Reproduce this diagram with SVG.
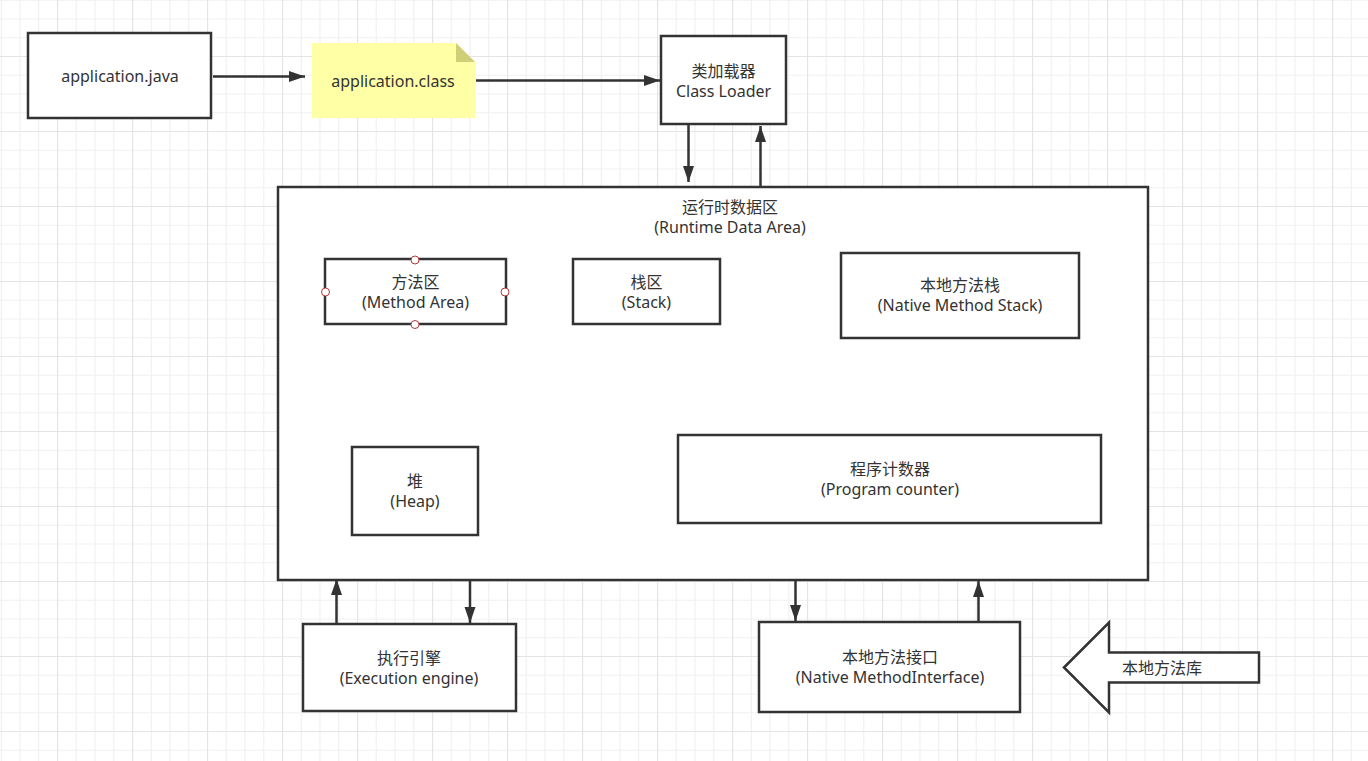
<svg xmlns="http://www.w3.org/2000/svg" width="1368" height="761" viewBox="0 0 1368 761">
<defs>
<pattern id="grid" patternUnits="userSpaceOnUse" x="57" y="56" width="75" height="75">
<path d="M0.5,0 V75 M19.25,0 V75 M38,0 V75 M56.75,0 V75 M0,0.5 H75 M0,19.25 H75 M0,38 H75 M0,56.75 H75" stroke="#f1f1f1" stroke-width="1.2" fill="none"/>
<path d="M0.5,0 V75 M0,0.5 H75" stroke="#e4e4e4" stroke-width="1.2" fill="none"/>
</pattern>
<marker id="arr" markerUnits="userSpaceOnUse" markerWidth="17" markerHeight="12" refX="16" refY="5.5" orient="auto">
<path d="M0,0 L16,5.5 L0,11 z" fill="#333"/>
</marker>
<style>
.box{fill:#fff;stroke:#333;stroke-width:2.5}
.t{font-family:"Noto Sans","Noto Sans CJK SC",sans-serif;font-size:16px;fill:#333;text-anchor:middle}
.ln{stroke:#333;stroke-width:2.5;fill:none;marker-end:url(#arr)}
.pt{fill:#fff;stroke:#b03a3a;stroke-width:1}
</style>
</defs>
<rect width="1368" height="761" fill="#fff"/>
<rect width="1368" height="761" fill="url(#grid)"/>

<g id="app-java">
<rect class="box" x="28" y="33" width="183" height="85"/>
<text class="t" x="120" y="82">application.java</text>
</g>

<g id="app-class">
<path d="M312,43 H456 L475,62 V118 H312 Z" fill="#ffffa6"/>
<path d="M456,43 L475,62 H456 Z" fill="#cfcf78"/>
<text class="t" x="393" y="87">application.class</text>
</g>

<g id="class-loader">
<rect class="box" x="661" y="36" width="125" height="88"/>
<text class="t" x="723.5" y="77">类加载器</text>
<text class="t" x="723.5" y="97">Class Loader</text>
</g>

<g id="runtime-data-area">
<rect class="box" x="278" y="187" width="870" height="393"/>
<text class="t" x="730" y="213">运行时数据区</text>
<text class="t" x="730" y="233">(Runtime Data Area)</text>
</g>

<g id="method-area">
<rect class="box" x="325" y="259" width="181" height="65"/>
<text class="t" x="415.5" y="288">方法区</text>
<text class="t" x="415.5" y="308">(Method Area)</text>
<circle class="pt" cx="415" cy="260" r="4"/>
<circle class="pt" cx="415" cy="324.5" r="4"/>
<circle class="pt" cx="325.5" cy="292" r="4"/>
<circle class="pt" cx="505" cy="292" r="4"/>
</g>

<g id="stack">
<rect class="box" x="573" y="259" width="147" height="65"/>
<text class="t" x="646.5" y="288">栈区</text>
<text class="t" x="646.5" y="308">(Stack)</text>
</g>

<g id="native-method-stack">
<rect class="box" x="841" y="253" width="238" height="85"/>
<text class="t" x="960" y="291">本地方法栈</text>
<text class="t" x="960" y="311">(Native Method Stack)</text>
</g>

<g id="heap">
<rect class="box" x="352" y="447" width="126" height="88"/>
<text class="t" x="415" y="487">堆</text>
<text class="t" x="415" y="507">(Heap)</text>
</g>

<g id="program-counter">
<rect class="box" x="678" y="435" width="423" height="88"/>
<text class="t" x="890" y="475">程序计数器</text>
<text class="t" x="890" y="495">(Program counter)</text>
</g>

<g id="execution-engine">
<rect class="box" x="303" y="624" width="213" height="87"/>
<text class="t" x="409" y="664">执行引擎</text>
<text class="t" x="409" y="684">(Execution engine)</text>
</g>

<g id="native-interface">
<rect class="box" x="759" y="622" width="261" height="90"/>
<text class="t" x="890" y="663">本地方法接口</text>
<text class="t" x="890" y="683">(Native MethodInterface)</text>
</g>

<g id="native-library">
<path d="M1064,667.5 L1109,622.5 V652.5 H1259 V682.5 H1109 V712.5 Z" fill="#fff" stroke="#333" stroke-width="2.5" stroke-linejoin="miter"/>
<text class="t" x="1162" y="674">本地方法库</text>
</g>

<g id="connectors">
<line class="ln" x1="213" y1="76.5" x2="305" y2="76.5"/>
<line class="ln" x1="476" y1="80.5" x2="660" y2="80.5"/>
<line class="ln" x1="688.5" y1="125" x2="688.5" y2="182"/>
<line class="ln" x1="760.5" y1="187" x2="760.5" y2="126"/>
<line class="ln" x1="336.5" y1="624" x2="336.5" y2="579"/>
<line class="ln" x1="470" y1="580" x2="470" y2="623"/>
<line class="ln" x1="795.5" y1="580" x2="795.5" y2="621"/>
<line class="ln" x1="978.5" y1="622" x2="978.5" y2="581"/>
</g>
</svg>
